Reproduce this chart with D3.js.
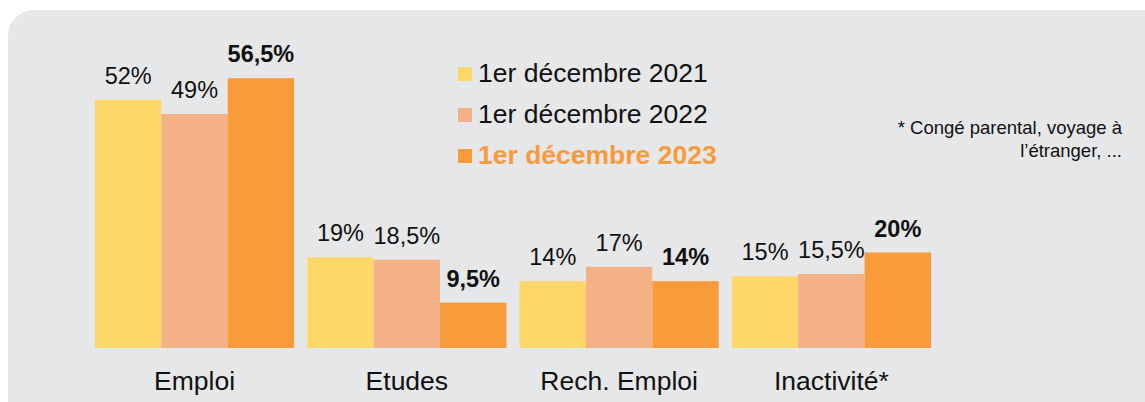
<!DOCTYPE html>
<html>
<head>
<meta charset="utf-8">
<script src="https://cdn.jsdelivr.net/npm/d3@7"></script>
<style>
  body { margin: 0; background: #ffffff; }
  svg { display: block; font-family: "Liberation Sans", Arial, sans-serif; }
</style>
</head>
<body>
<script>
// data
var categories = ["Emploi", "Etudes", "Rech. Emploi", "Inactivité*"];
var seriesNames = ["1er décembre 2021", "1er décembre 2022", "1er décembre 2023"];
var values2021 = [52, 19, 14, 15];
var values2022 = [49, 18.5, 17, 15.5];
var values2023 = [56.5, 9.5, 14, 20];
var labels2021 = ["52%", "19%", "14%", "15%"];
var labels2022 = ["49%", "18,5%", "17%", "15,5%"];
var labels2023 = ["56,5%", "9,5%", "14%", "20%"];
var seriesColors = ["#fdd767", "#f3b185", "#f99a3b"];
var footnote = ["* Congé parental, voyage à", "l’étranger, ..."];

var width = 1145, height = 402;

var svg = d3.select("body").append("svg")
    .attr("width", width)
    .attr("height", height);

// grey panel with rounded corners, runs off the right and bottom edges
svg.append("rect")
    .attr("x", 8)
    .attr("y", 10)
    .attr("width", width + 40)
    .attr("height", height + 40)
    .attr("rx", 26)
    .attr("fill", "#e6e7e9");

// scales
var x0 = d3.scaleBand()
    .domain(categories)
    .range([95, 931])
    .paddingInner(0.062)
    .paddingOuter(0);

var x1 = d3.scaleBand()
    .domain(d3.range(seriesNames.length))
    .range([0, x0.bandwidth()])
    .padding(0);

var baseY = 348;
var y = d3.scaleLinear()
    .domain([0, 60])
    .range([baseY, baseY - 60 * 4.775]);

// build rows for each category
var allValues = [values2021, values2022, values2023];
var allLabels = [labels2021, labels2022, labels2023];
var rows = categories.map(function(c, i){
    return {
        cat: c,
        items: seriesNames.map(function(s, j){
            return {s: j, v: allValues[j][i], label: allLabels[j][i]};
        })
    };
});

var groups = svg.selectAll(".grp")
    .data(rows)
    .enter()
    .append("g")
    .attr("class", "grp")
    .attr("transform", function(d){ return "translate(" + x0(d.cat) + ",0)"; });

groups.selectAll("rect")
    .data(function(d){ return d.items; })
    .enter()
    .append("rect")
    .attr("x", function(d){ return x1(d.s); })
    .attr("width", x1.bandwidth())
    .attr("y", function(d){ return y(d.v); })
    .attr("height", function(d){ return baseY - y(d.v); })
    .attr("fill", function(d){ return seriesColors[d.s]; });

// value labels, last year in bold
groups.selectAll(".val")
    .data(function(d){ return d.items; })
    .enter()
    .append("text")
    .attr("class", "val")
    .attr("x", function(d){ return x1(d.s) + x1.bandwidth() / 2; })
    .attr("y", function(d){ return y(d.v) - 16; })
    .attr("text-anchor", "middle")
    .attr("font-size", 23.5)
    .attr("font-weight", function(d){ return d.s == 2 ? "bold" : "normal"; })
    .attr("fill", "#111")
    .text(function(d){ return d.label; });

// category labels
groups.append("text")
    .attr("x", x0.bandwidth() / 2)
    .attr("y", 390)
    .attr("text-anchor", "middle")
    .attr("font-size", 26.5)
    .attr("fill", "#111")
    .text(function(d){ return d.cat; });

// legend
var legend = svg.selectAll(".leg")
    .data(seriesNames)
    .enter()
    .append("g")
    .attr("class", "leg")
    .attr("transform", function(d, i){ return "translate(458," + (82 + i * 41) + ")"; });

legend.append("rect")
    .attr("x", 0)
    .attr("y", -15)
    .attr("width", 14)
    .attr("height", 14)
    .attr("fill", function(d, i){ return seriesColors[i]; });

legend.append("text")
    .attr("x", 20)
    .attr("y", 0)
    .attr("font-size", 26.5)
    .attr("font-weight", function(d, i){ return i == 2 ? "bold" : "normal"; })
    .attr("fill", function(d, i){ return i == 2 ? seriesColors[2] : "#111"; })
    .text(function(d){ return d; });

// footnote
svg.selectAll(".note")
    .data(footnote)
    .enter()
    .append("text")
    .attr("class", "note")
    .attr("x", 1122)
    .attr("y", function(d, i){ return 134 + i * 23; })
    .attr("text-anchor", "end")
    .attr("font-size", 18.5)
    .attr("fill", "#111")
    .text(function(d){ return d; });
</script>
</body>
</html>
